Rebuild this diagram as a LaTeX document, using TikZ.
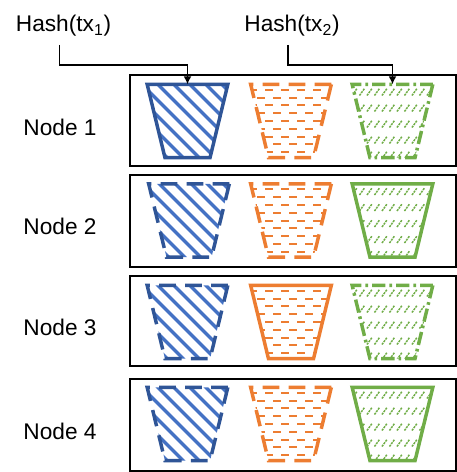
\documentclass[tikz,border=0pt]{standalone}
\usepackage{fontspec}
\setmainfont{Liberation Sans}
\usepackage{xcolor}
\usetikzlibrary{shapes.geometric, arrows.meta, positioning}
\definecolor{bucketblue}{RGB}{47, 85, 151}
\definecolor{stripeblue}{RGB}{68, 114, 196}
\definecolor{bucketorange}{RGB}{237, 125, 49}
\definecolor{bucketgreen}{RGB}{112, 173, 71}

\begin{document}
\begin{tikzpicture}[
    x=0.75pt, y=-0.75pt,
    tag/.style={font=\fontsize{17}{20}\selectfont, inner sep=0pt},
    rowbox/.style={rectangle, draw=black, line width=1.5pt, minimum width=244pt, inner sep=0pt},
    link/.style={draw=black, line width=1.2pt, -{Latex[length=6pt, width=6pt]}},
    bucket/.style={trapezium, trapezium stretches body=true, shape border rotate=180,
                   trapezium angle=21.6, minimum width=60.5pt, minimum height=55pt,
                   inner sep=0pt, outer sep=0pt, line width=2.6pt},
    dashedge/.style={dash pattern=on 12.5pt off 7pt},
    dotedge/.style={dash pattern=on 10pt off 3pt on 2pt off 3pt},
    bluestripes/.style={bucket, draw=bucketblue, path picture={
        \foreach \i in {-150,-134,...,60}
            \draw[solid, draw=stripeblue, line width=2.4pt]
                ([shift={(\i,-45)}]path picture bounding box.center) -- ++(90,90);
    }},
    orangerows/.style={bucket, draw=bucketorange, path picture={
        \foreach \r in {-5,...,5}
            \draw[draw=bucketorange, line width=1.5pt, dash pattern=on 6pt off 6pt,
                  dash phase={6pt*mod(\r+5,2)}]
                ([shift={(-50,\r*7.8)}]path picture bounding box.center) -- ++(100,0);
    }},
    greenrows/.style={bucket, draw=bucketgreen, path picture={
        \foreach \r in {-29,-13,3,19,34}
            \foreach \i in {-48,-40.5,...,48}
                \draw[draw=bucketgreen, line width=1.1pt, dash pattern=on 1.6pt off 0.7pt]
                    ([shift={(\i,\r+3.5)}]path picture bounding box.center) -- ++(5,-7);
    }},
]
    \useasboundingbox (0,0) rectangle (457,472);

    % Rows
    \node[rowbox, minimum height=68pt] (row1) at (293,120.5) {};
    \node[rowbox, minimum height=69pt] (row2) at (293,221) {};
    \node[rowbox, minimum height=68pt] (row3) at (293,321) {};
    \node[rowbox, minimum height=69pt] (row4) at (293,424.5) {};

    % Row labels
    \node[tag] (name1) at (60,127) {Node 1};
    \node[tag] (name2) at (60,226) {Node 2};
    \node[tag] (name3) at (60,327) {Node 3};
    \node[tag] (name4) at (60,431) {Node 4};

    % Buckets of node 1
    \node[bluestripes] (blue1) at (187.5,121) {\phantom{x}};
    \node[orangerows, dashedge] (orange1) at (291,121) {\phantom{x}};
    \node[greenrows, dotedge] (green1) at (392.5,121) {\phantom{x}};

    % Buckets of node 2
    \node[bluestripes, dashedge] (blue2) at (189,220.5) {\phantom{x}};
    \node[orangerows, dashedge] (orange2) at (291,220.5) {\phantom{x}};
    \node[greenrows] (green2) at (392.5,220.5) {\phantom{x}};

    % Buckets of node 3
    \node[bluestripes, dashedge] (blue3) at (187.5,322) {\phantom{x}};
    \node[orangerows] (orange3) at (291,322) {\phantom{x}};
    \node[greenrows, dotedge] (green3) at (392.5,322) {\phantom{x}};

    % Buckets of node 4
    \node[bluestripes, dashedge] (blue4) at (187.5,424) {\phantom{x}};
    \node[orangerows, dashedge] (orange4) at (291,424) {\phantom{x}};
    \node[greenrows] (green4) at (392.5,424) {\phantom{x}};

    % Hash labels
    \node[tag] (hash1) at (63.5,26) {Hash(tx\textsubscript{1})};
    \node[tag] (hash2) at (292,26) {Hash(tx\textsubscript{2})};

    % Arrows
    \draw[link] ([xshift=-3pt, yshift=-6pt]hash1.south) -- ++(0,20) -| (blue1.north);
    \draw[link] ([xshift=-3pt, yshift=-6pt]hash2.south) -- ++(0,20) -| (green1.north);
\end{tikzpicture}
\end{document}
